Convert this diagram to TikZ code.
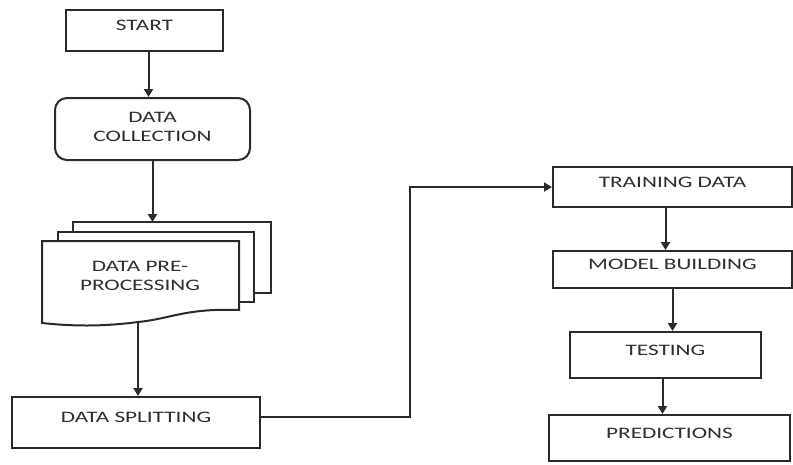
\documentclass[tikz,border=0pt]{standalone}
\usepackage{graphicx}
\usepackage{fontspec}
\setmainfont{Carlito}
\usetikzlibrary{arrows.meta,calc}
\newcommand{\sx}[1]{\scalebox{1.45}[1]{#1}}
\definecolor{lc}{HTML}{2A2A2A}
\definecolor{tc}{HTML}{2E2E2E}
\begin{document}
\begin{tikzpicture}[x=1pt,y=-1pt,
  box/.style={draw=lc, line width=2pt, fill=white, text=tc, inner sep=0pt,
    font=\fontsize{16}{19}\selectfont, text depth=10pt},
  lbl/.style={text=tc, inner sep=0pt, font=\fontsize{16}{19}\selectfont, align=center},
  page/.style={draw=lc, line width=2pt, fill=white},
  arr/.style={-{Triangle[width=9pt,length=8pt]}, draw=lc, line width=2pt},
  conn/.style={draw=lc, line width=2pt}]
\useasboundingbox (0,0) rectangle (793,464);
\fill[white] (0,0) rectangle (793,464);

% start
\node[box, minimum width=157pt, minimum height=41pt] (start) at (144.5,30.5) {\sx{START}};
% data collection
\node[box, rounded corners=12pt, minimum width=195pt, minimum height=62pt, align=center, text depth=5pt]
  (dc) at (152.5,129) {\sx{DATA}\\\sx{COLLECTION}};

% document stack
\draw[page] (73,222) rectangle (271,293);
\draw[page] (58,232) rectangle (254,302);
\draw[page] (42,241) -- (239,241) -- (239,310)
  .. controls (185,308) and (170,319) .. (138,322)
  .. controls (100,327) and (70,326) .. (42,323) -- cycle;
\node[lbl] (pre) at (140,276) {\sx{DATA PRE-}\\\sx{PROCESSING}};
\coordinate (pretop) at (152.5,222);
\coordinate (prebot) at (138,322);

% data splitting
\node[box, minimum width=248pt, minimum height=51pt] (split) at (136,422.5) {\sx{DATA SPLITTING}};

% right column
\node[box, minimum width=239pt, minimum height=40pt] (train) at (672.5,187) {\sx{TRAINING DATA}};
\node[box, minimum width=239pt, minimum height=37pt] (model) at (672.5,269.5) {\sx{MODEL BUILDING}};
\node[box, minimum width=191pt, minimum height=46pt] (test) at (665.5,355) {\sx{TESTING}};
\node[box, minimum width=241pt, minimum height=46pt] (pred) at (669.5,438) {\sx{PREDICTIONS}};

% connectors
\draw[arr] ([xshift=4pt]start.south) -- ([xshift=-4pt]dc.north);
\draw[arr] (dc.south) -- (pretop);
\draw[arr] (prebot) -- (prebot |- split.north);
\draw[arr] ([yshift=6pt]split.east) -| ($(train.west)+(-142,0)$) -- (train.west);
\draw[arr] ([xshift=-7pt]train.south) -- ([xshift=-7pt]model.north);
\draw[arr] (model.south) -- (model.south |- test.north);
\draw[arr] ([xshift=-3pt]test.south) -- ([xshift=-3pt]test.south |- pred.north);
\end{tikzpicture}
\end{document}
